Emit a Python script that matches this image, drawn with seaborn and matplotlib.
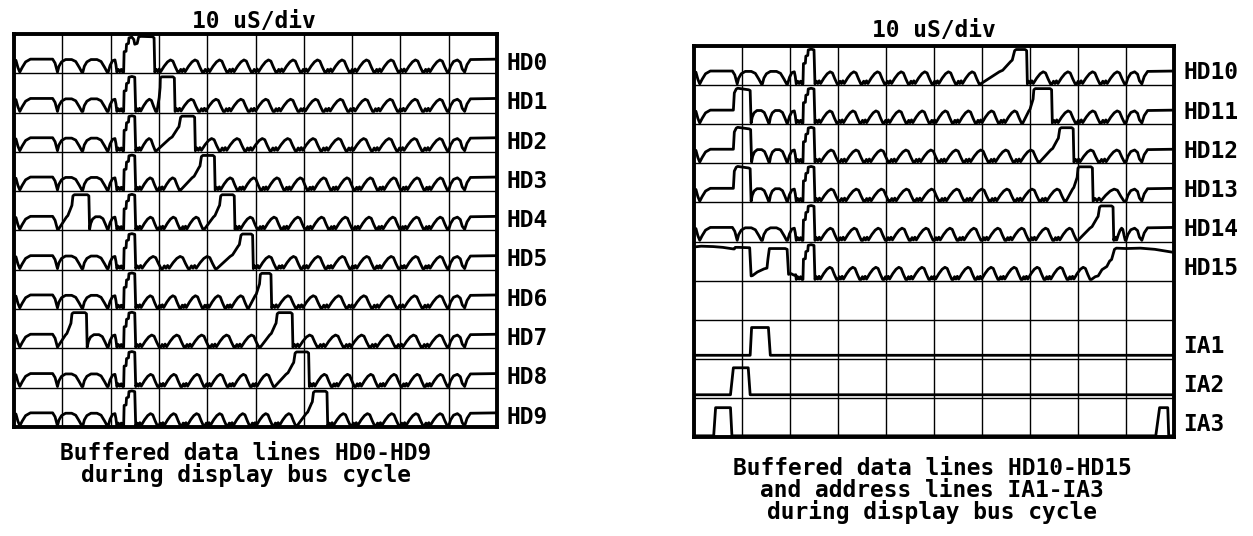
import matplotlib
matplotlib.use("Agg")
import matplotlib.pyplot as plt
import pandas as pd
import seaborn as sns

# ---------------- trace names and event timing (x in divisions, 10 us/div) ----------------
LEFT_NAMES = ["HD0", "HD1", "HD2", "HD3", "HD4", "HD5", "HD6", "HD7", "HD8", "HD9"]
# early data pulse before the strobe: (rise start, top start, top end)
LEFT_EARLY = [None, None, None, None, (0.92, 1.22, 1.55), None, None, (0.90, 1.20, 1.50), None, None]
# data pulse after the strobe: (ramp start, top start, top end)
LEFT_PULSE = [(2.50, 2.58, 2.90), (2.96, 3.03, 3.32), (2.95, 3.45, 3.74), (3.45, 3.88, 4.15),
              (3.94, 4.28, 4.56), (4.20, 4.70, 4.94), (4.86, 5.10, 5.32), (5.10, 5.45, 5.76),
              (5.40, 5.82, 6.10), (5.86, 6.20, 6.48)]

RIGHT_NAMES = ["HD10", "HD11", "HD12", "HD13", "HD14", "HD15"]
RIGHT_EARLY = [None, (0.82, 0.88, 1.17), (0.82, 0.88, 1.18), (0.82, 0.88, 1.17), None, None]
RIGHT_PULSE = [(5.97, 6.68, 6.93), (6.85, 7.08, 7.45), (7.20, 7.62, 7.90),
               (7.75, 8.00, 8.30), (8.00, 8.45, 8.73), None]

# HD15 rests high, so its start and end are given point by point
HD15_HEAD_T = [0.00, 0.15, 0.40, 0.60, 0.82, 0.84, 0.86, 0.93, 1.16, 1.19, 1.22, 1.32,
               1.46, 1.52, 1.54, 1.57, 1.90, 1.94, 1.97, 2.02, 2.08, 2.12]
HD15_HEAD_V = [0.86, 0.88, 0.87, 0.85, 0.81, 0.81, 0.85, 0.85, 0.84, 0.12, 0.13, 0.22,
               0.30, 0.32, 0.55, 0.82, 0.82, 0.80, 0.16, 0.18, 0.14, 0.15]
HD15_END_T = [8.28, 8.36, 8.42, 8.50, 8.60, 8.66, 8.70, 8.76, 8.80, 9.00, 9.30, 9.60, 9.80, 10.00]
HD15_END_V = [0.03, 0.10, 0.12, 0.28, 0.36, 0.50, 0.54, 0.80, 0.83, 0.82, 0.83, 0.80, 0.76, 0.72]

ADDR_NAMES = ["IA1", "IA2", "IA3"]
# address pulses: (rise start, top start, top end, fall end)
ADDR_PULSES = [[(1.17, 1.20, 1.55, 1.59)],
               [(0.76, 0.82, 1.13, 1.17)],
               [(0.41, 0.45, 0.76, 0.79), (9.62, 9.70, 9.87, 9.89)]]
ADDR_HIGH = [0.80, 0.77, 0.75]
ADDR_LOW = [0.09, 0.08, 0.03]

# ---------------- waveform shapes (x in divisions, y as fraction of a trace row) ----------------
LEAD_T = [0.00, 0.04, 0.08, 0.12, 0.17, 0.24, 0.34, 0.80, 0.85, 0.90]
LEAD_V = [0.33, 0.33, 0.15, 0.03, 0.15, 0.29, 0.36, 0.36, 0.26, 0.03]
ARC_T = [0.00, 0.03, 0.08, 0.16, 0.28, 0.36, 0.43, 0.48]
ARC_V = [0.03, 0.18, 0.29, 0.35, 0.35, 0.30, 0.15, 0.03]
IDLE_T = [0.00, 0.03, 0.06, 0.09, 0.12, 0.19, 0.26, 0.32, 0.37, 0.42, 0.47]
IDLE_V = [0.03, 0.10, 0.04, 0.11, 0.04, 0.18, 0.29, 0.34, 0.31, 0.16, 0.03]
SHAPE_PERIOD = 0.5
STROBE_T = [1.95, 1.99, 2.04, 2.09, 2.11, 2.13, 2.16, 2.19, 2.22, 2.25, 2.27, 2.28,
            2.32, 2.33, 2.37, 2.38, 2.44, 2.50, 2.52]
STROBE_V = [0.03, 0.20, 0.32, 0.34, 0.22, 0.03, 0.10, 0.04, 0.10, 0.03, 0.03, 0.55,
            0.56, 0.74, 0.76, 0.90, 0.92, 0.90, 0.03]
TAIL_T = [9.00, 9.04, 9.10, 9.18, 9.24, 9.28, 9.33, 9.38, 9.45, 10.00]
TAIL_V = [0.03, 0.18, 0.30, 0.34, 0.28, 0.11, 0.03, 0.22, 0.35, 0.36]


def tile(start, stop, shape_t, shape_v):
    span = stop - start
    if span <= 0.05:
        return [], []
    n = max(1, int(round(span / SHAPE_PERIOD)))
    w = span / n
    ts, vs = [], []
    for k in range(n):
        for t, v in zip(shape_t, shape_v):
            ts.append(start + k * w + t / SHAPE_PERIOD * w)
            vs.append(v)
    return ts, vs


def data_pulse(t0, t1, t2):
    r = t1 - t0
    ts = [t0, t0 + 0.55 * r, t0 + 0.65 * r, t0 + 0.88 * r, t0 + 0.93 * r, t1, t1 + 0.03,
          t2 - 0.03, t2, t2 + 0.015]
    vs = [0.03, 0.34, 0.38, 0.60, 0.64, 0.88, 0.91, 0.91, 0.88, 0.03]
    return ts, vs


def merged_pulse(t0, t1, t2):
    ts = [t0 - 0.02, t0, t0 + 0.05, t1, t1 + 0.04, t2 - 0.03, t2, t2 + 0.015]
    vs = [0.86, 0.74, 0.76, 0.92, 0.94, 0.93, 0.90, 0.03]
    return ts, vs


def hd_trace(early, pulse, head=None, end=None):
    ts, vs = [], []

    def add(t, v):
        ts.extend(t)
        vs.extend(v)

    if head is not None:
        add(*head)
        strobe = [(t, v) for t, v in zip(STROBE_T, STROBE_V) if t > head[0][-1]]
    else:
        if early is None:
            add(LEAD_T, LEAD_V)
            arc_from = LEAD_T[-1]
        elif early[1] - early[0] <= 0.1:
            e0, e1, e2 = early
            keep = [i for i, t in enumerate(LEAD_T) if t < e0]
            add([LEAD_T[i] for i in keep], [LEAD_V[i] for i in keep])
            add([e0, e0 + 0.02, e1, e1 + 0.03, e2 - 0.03, e2, e2 + 0.02],
                [0.36, 0.80, 0.90, 0.92, 0.88, 0.86, 0.03])
            arc_from = e2 + 0.02
        else:
            add(LEAD_T, LEAD_V)
            add(*data_pulse(*early))
            arc_from = early[2] + 0.015
        add(*tile(arc_from, STROBE_T[0], ARC_T, ARC_V))
        strobe = list(zip(STROBE_T, STROBE_V))

    strobe_end = STROBE_T[-1]
    if pulse is not None and pulse[0] < strobe_end:
        strobe = [(t, v) for t, v in strobe if t < pulse[0] - 0.02]
        add([p[0] for p in strobe], [p[1] for p in strobe])
        add(*merged_pulse(*pulse))
        idle_from = pulse[2] + 0.015
    else:
        add([p[0] for p in strobe], [p[1] for p in strobe])
        idle_from = strobe_end
        if pulse is not None:
            add(*tile(idle_from, pulse[0], IDLE_T, IDLE_V))
            add(*data_pulse(*pulse))
            idle_from = pulse[2] + 0.015

    if end is not None:
        add(*tile(idle_from, end[0][0], IDLE_T, IDLE_V))
        add(*end)
    else:
        add(*tile(idle_from, TAIL_T[0], IDLE_T, IDLE_V))
        add(TAIL_T, TAIL_V)
    return ts, vs


def addr_trace(pulses, hi, lo):
    ts, vs = [0.0], [lo]
    for a, b, c, d in pulses:
        ts += [a, b, c, d]
        vs += [lo, hi, hi, lo]
    ts.append(10.0)
    vs.append(lo)
    return ts, vs


# ---------------- long-form table of all traces ----------------
records = []


def put(panel, name, row, ts, vs):
    for t, v in zip(ts, vs):
        records.append({"panel": panel, "trace": name, "t": t, "y": (9 - row) + v})


for row, (name, early, pulse) in enumerate(zip(LEFT_NAMES, LEFT_EARLY, LEFT_PULSE)):
    put("left", name, row, *hd_trace(early, pulse))

for row, (name, early, pulse) in enumerate(zip(RIGHT_NAMES, RIGHT_EARLY, RIGHT_PULSE)):
    if name == "HD15":
        ts, vs = hd_trace(None, None, head=(HD15_HEAD_T, HD15_HEAD_V),
                          end=(HD15_END_T, HD15_END_V))
    else:
        ts, vs = hd_trace(early, pulse)
    put("right", name, row, ts, vs)

ADDR_ROWS = [7, 8, 9]
for name, row, pulses, hi, lo in zip(ADDR_NAMES, ADDR_ROWS, ADDR_PULSES, ADDR_HIGH, ADDR_LOW):
    put("right", name, row, *addr_trace(pulses, hi, lo))

df = pd.DataFrame(records)

# ---------------- figure ----------------
sns.set_theme(style="white")
plt.rcParams["font.family"] = ["DejaVu Sans Mono", "DejaVu Sans"]

W, H = 1253, 536
fig = plt.figure(figsize=(W / 100, H / 100), dpi=100)
fig.patch.set_facecolor("white")


def box(x0, y0, x1, y1):
    return [x0 / W, 1 - y1 / H, (x1 - x0) / W, (y1 - y0) / H]


ax_l = fig.add_axes(box(14, 34, 497, 427))
ax_r = fig.add_axes(box(694, 46, 1174, 437))

label_rows = {
    "left": [(n, i) for i, n in enumerate(LEFT_NAMES)],
    "right": [(n, i) for i, n in enumerate(RIGHT_NAMES)] + list(zip(ADDR_NAMES, ADDR_ROWS)),
}
label_lift = {"left": 0.25, "right": 0.31}

for ax, panel in [(ax_l, "left"), (ax_r, "right")]:
    sns.lineplot(data=df[df["panel"] == panel], x="t", y="y", units="trace",
                 estimator=None, sort=False, color="black", linewidth=2.0,
                 legend=False, ax=ax)
    ax.set_xlim(0, 10)
    ax.set_ylim(0, 10)
    ax.set_xticks(range(11))
    ax.set_yticks(range(11))
    ax.tick_params(length=0, labelbottom=False, labelleft=False)
    ax.set_xlabel("")
    ax.set_ylabel("")
    ax.grid(True, color="black", linewidth=1.0)
    ax.set_facecolor("white")
    for s in ax.spines.values():
        s.set_visible(True)
        s.set_color("black")
        s.set_linewidth(2.8)
    for name, row in label_rows[panel]:
        ax.text(1.02, ((9 - row) + label_lift[panel]) / 10, name, transform=ax.transAxes,
                ha="left", va="center", fontsize=16.5, fontweight="bold", color="black")

TXT = dict(fontsize=16.5, fontweight="bold", color="black", ha="center", va="baseline")
fig.text(254 / W, 1 - 28 / H, "10 uS/div", **TXT)
fig.text(934 / W, 1 - 37 / H, "10 uS/div", **TXT)

fig.text(246 / W, 1 - 460 / H, "Buffered data lines HD0-HD9", **TXT)
fig.text(246 / W, 1 - 482 / H, "during display bus cycle", **TXT)
fig.text(932 / W, 1 - 475 / H, "Buffered data lines HD10-HD15", **TXT)
fig.text(932 / W, 1 - 497 / H, "and address lines IA1-IA3", **TXT)
fig.text(932 / W, 1 - 519 / H, "during display bus cycle", **TXT)

fig.savefig("out.png", dpi=100, facecolor="white")
